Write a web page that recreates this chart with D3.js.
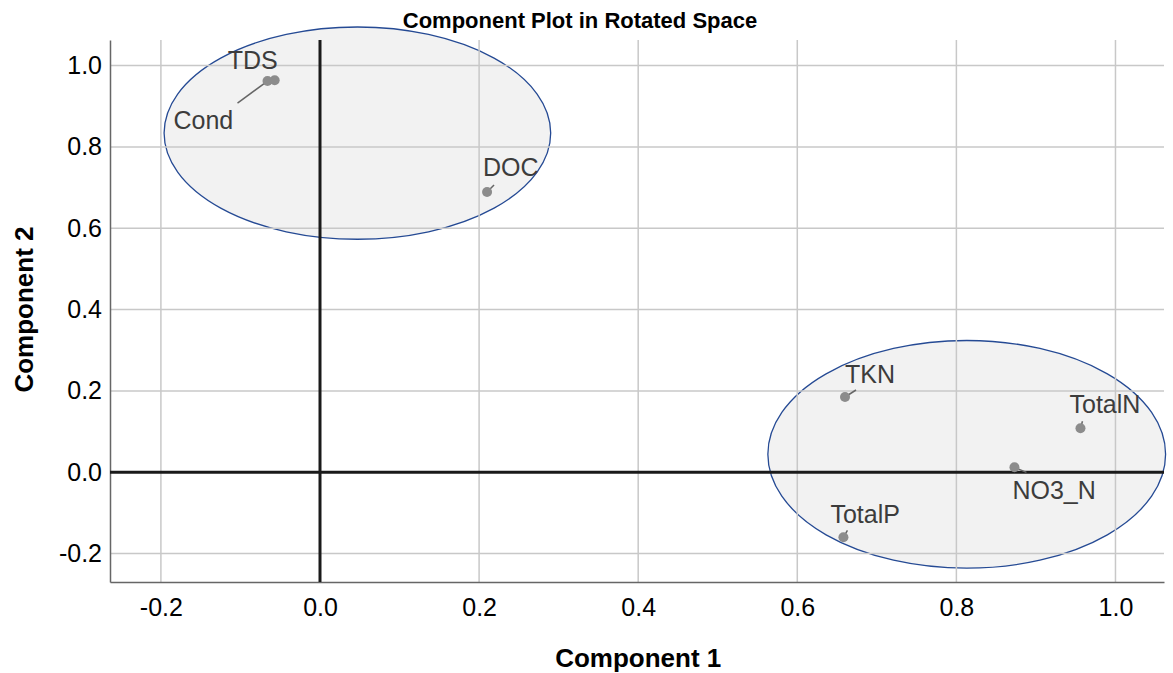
<!DOCTYPE html>
<html>
<head>
<meta charset="utf-8">
<script src="https://cdn.jsdelivr.net/npm/d3@7"></script>
<style>
  body { margin: 0; background: #fff; }
  text { font-family: "Liberation Sans", Arial, sans-serif; }
</style>
</head>
<body>
<svg id="chart" width="1173" height="673"></svg>
<script>
// data: rotated component loadings
const variables = ['TDS', 'Cond', 'DOC', 'TKN', 'TotalN', 'NO3_N', 'TotalP'];
const component1 = [-0.057, -0.066, 0.210, 0.660, 0.956, 0.873, 0.658];
const component2 = [0.964, 0.962, 0.689, 0.185, 0.108, 0.012, -0.160];

// cluster ellipses (data units)
const clusterCx = [0.047, 0.813];
const clusterCy = [0.834, 0.044];
const clusterRx = [0.243, 0.250];
const clusterRy = [0.261, 0.280];

const xTicks = [-0.2, 0.0, 0.2, 0.4, 0.6, 0.8, 1.0];
const yTicks = [-0.2, 0.0, 0.2, 0.4, 0.6, 0.8, 1.0];

// label placement, px relative to the point: [dx, dy, leaderX, leaderY]
const labelLayout = {
    TDS:    [-47, -11, 0, 0],
    Cond:   [-94, 48, -30, 22],
    DOC:    [-4, -16, 7, -7],
    TKN:    [0, -14, 11, -7],
    TotalN: [-11, -15, 2, -7],
    NO3_N:  [-2, 32, 12, 5],
    TotalP: [-13, -14, 4, -7]
};

const width = 1173, height = 673;
const margins = { top: 40, right: 9, bottom: 91, left: 110 };

const translate = (x, y) => `translate(${x}, ${y})`;
const fmt = d => d.toFixed(1); // plain hyphen minus like the original

const svg = d3.select('#chart');

const x = d3.scaleLinear()
    .domain([-0.264, 1.061])
    .range([margins.left, width - margins.right]);
const y = d3.scaleLinear()
    .domain([-0.270, 1.063])
    .range([height - margins.bottom, margins.top]);

// ellipse fill sits under the grid
const ellipses = svg.append('g').attr('id', 'clusters');
ellipses.selectAll('ellipse')
    .data(clusterCx)
    .enter()
    .append('ellipse')
    .attr('cx', d => x(d))
    .attr('cy', (d, i) => y(clusterCy[i]))
    .attr('rx', (d, i) => x(clusterRx[i]) - x(0))
    .attr('ry', (d, i) => y(0) - y(clusterRy[i]))
    .attr('fill', '#f2f2f2');

// grid
const grid = svg.append('g').attr('id', 'grid');
grid.selectAll('line.vx')
    .data(xTicks)
    .enter()
    .append('line')
    .attr('class', 'vx')
    .attr('x1', d => x(d)).attr('x2', d => x(d))
    .attr('y1', margins.top).attr('y2', height - margins.bottom)
    .attr('stroke', '#c8c8c8').attr('stroke-width', 1.5);
grid.selectAll('line.hy')
    .data(yTicks)
    .enter()
    .append('line')
    .attr('class', 'hy')
    .attr('x1', margins.left).attr('x2', width - margins.right)
    .attr('y1', d => y(d)).attr('y2', d => y(d))
    .attr('stroke', '#c8c8c8').attr('stroke-width', 1.5);

// axes
const xAxis = d3.axisBottom(x).tickValues(xTicks).tickFormat(fmt).tickSize(0).tickPadding(16);
svg.append('g')
    .attr('class', 'axis x-axis')
    .attr('transform', translate(0, height - margins.bottom))
    .call(xAxis)
    .call(g => g.select('.domain').attr('stroke', '#666').attr('stroke-width', 1.5))
    .call(g => g.selectAll('text').attr('font-size', 25).attr('fill', '#000'));

const yAxis = d3.axisLeft(y).tickValues(yTicks).tickFormat(fmt).tickSize(0).tickPadding(8);
svg.append('g')
    .attr('class', 'axis y-axis')
    .attr('transform', translate(margins.left, 0))
    .call(yAxis)
    .call(g => g.select('.domain').attr('stroke', '#666').attr('stroke-width', 1.5))
    .call(g => g.selectAll('text').attr('font-size', 25).attr('fill', '#000'));

// reference lines through origin
svg.append('line')
    .attr('x1', x(0)).attr('x2', x(0))
    .attr('y1', margins.top).attr('y2', height - margins.bottom)
    .attr('stroke', '#1a1a1a').attr('stroke-width', 3);
svg.append('line')
    .attr('x1', margins.left).attr('x2', width - margins.right)
    .attr('y1', y(0)).attr('y2', y(0))
    .attr('stroke', '#1a1a1a').attr('stroke-width', 3);

// ellipse outlines
ellipses.selectAll('ellipse.outline')
    .data(clusterCx)
    .enter()
    .append('ellipse')
    .attr('class', 'outline')
    .attr('cx', d => x(d))
    .attr('cy', (d, i) => y(clusterCy[i]))
    .attr('rx', (d, i) => x(clusterRx[i]) - x(0))
    .attr('ry', (d, i) => y(0) - y(clusterRy[i]))
    .attr('fill', 'none')
    .attr('stroke', '#254a94')
    .attr('stroke-width', 1.3);

// points
const pts = svg.append('g').attr('id', 'points')
    .selectAll('g')
    .data(variables)
    .enter()
    .append('g')
    .attr('transform', (d, i) => translate(x(component1[i]), y(component2[i])));

pts.append('line')
    .attr('x1', 0).attr('y1', 0)
    .attr('x2', d => labelLayout[d][2])
    .attr('y2', d => labelLayout[d][3])
    .attr('stroke', '#666').attr('stroke-width', 1.5);

pts.append('circle')
    .attr('r', 5)
    .attr('fill', '#8c8c8c');

pts.append('text')
    .attr('x', d => labelLayout[d][0])
    .attr('y', d => labelLayout[d][1])
    .attr('font-size', 25)
    .attr('fill', '#3c3c3c')
    .text(d => d);

// titles
svg.append('text')
    .attr('x', 580).attr('y', 28)
    .attr('text-anchor', 'middle')
    .attr('font-size', 22).attr('font-weight', 'bold')
    .text('Component Plot in Rotated Space');

svg.append('text')
    .attr('x', x(0.4)).attr('y', 667)
    .attr('text-anchor', 'middle')
    .attr('font-size', 26).attr('font-weight', 'bold')
    .text('Component 1');

svg.append('text')
    .attr('transform', translate(33, y(0.4)) + ' rotate(-90)')
    .attr('text-anchor', 'middle')
    .attr('font-size', 26).attr('font-weight', 'bold')
    .text('Component 2');
</script>
</body>
</html>
